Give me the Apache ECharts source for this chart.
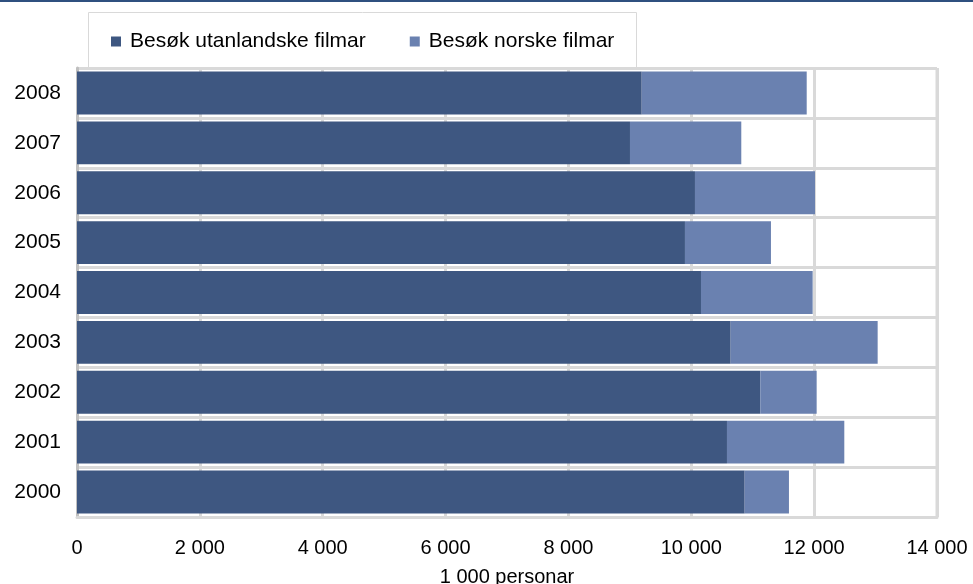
<!DOCTYPE html>
<html><head><meta charset="utf-8">
<script src="https://cdn.jsdelivr.net/npm/echarts@6/dist/echarts.min.js"></script>
<style>html,body{margin:0;padding:0;background:#fff}#c{width:973px;height:584px}</style>
</head><body><div id="c"></div>
<script>
const years = ['2000','2001','2002','2003','2004','2005','2006','2007','2008'];
const foreign = [10869, 10581, 11123, 10641, 10158, 9897, 10060, 9002, 9193];
const norwegian = [721, 1910, 918, 2393, 1818, 1400, 1954, 1812, 2686];
const seriesNames = ['Besøk utanlandske filmar', 'Besøk norske filmar'];
const xTicks = [0, 2000, 4000, 6000, 8000, 10000, 12000, 14000];
const xName = '1 000 personar';

const font = 'Liberation Sans, Arial, sans-serif';
const chart = echarts.init(document.getElementById('c'), null, {renderer: 'canvas'});
chart.setOption({
  animation: false,
  color: ['#3e5781', '#6a81b0'],
  grid: {left: 77, right: 36, top: 68, bottom: 67, containLabel: false, outerBoundsMode: 'none'},
  legend: {
    left: 111, top: 31,
    padding: 0,
    itemWidth: 10, itemHeight: 10, itemGap: 44,
    icon: 'rect',
    textStyle: {fontFamily: font, fontSize: 21, color: '#000', padding: [0, 0, 0, 4]},
    data: seriesNames
  },
  xAxis: {
    type: 'value', min: xTicks[0], max: xTicks[xTicks.length - 1], interval: 2000,
    name: xName, nameLocation: 'middle', nameGap: 50,
    nameTextStyle: {fontFamily: font, fontSize: 20, color: '#000'},
    axisLine: {show: true, lineStyle: {color: '#d9d9d9', width: 3}},
    axisTick: {show: false},
    axisLabel: {fontFamily: font, fontSize: 20, color: '#000', margin: 21,
      formatter: v => v >= 1000 ? String(v).replace(/\B(?=(\d{3})+(?!\d))/g, ' ') : String(v)},
    splitLine: {show: true, lineStyle: {color: '#d9d9d9', width: 3}}
  },
  yAxis: {
    type: 'category', data: years,
    axisLine: {show: true, lineStyle: {color: '#bfbfbf', width: 3}},
    axisTick: {show: false},
    axisLabel: {fontFamily: font, fontSize: 21, color: '#000', margin: 16},
    splitLine: {show: true, lineStyle: {color: '#d9d9d9', width: 3}}
  },
  series: [
    {name: seriesNames[0], type: 'bar', stack: 's', data: foreign, barCategoryGap: '14%'},
    {name: seriesNames[1], type: 'bar', stack: 's', data: norwegian, barCategoryGap: '14%'}
  ],
  graphic: [
    {type: 'rect', shape: {x: 0, y: 0, width: 973, height: 2}, style: {fill: '#2f507f'}},
    {type: 'rect', shape: {x: 88.5, y: 12.5, width: 548, height: 56}, style: {fill: 'none', stroke: '#d9d9d9', lineWidth: 1}},
    {type: 'line', shape: {x1: 937, y1: 68, x2: 937, y2: 517}, style: {stroke: '#d9d9d9', lineWidth: 3}}
  ]
});
</script></body></html>
